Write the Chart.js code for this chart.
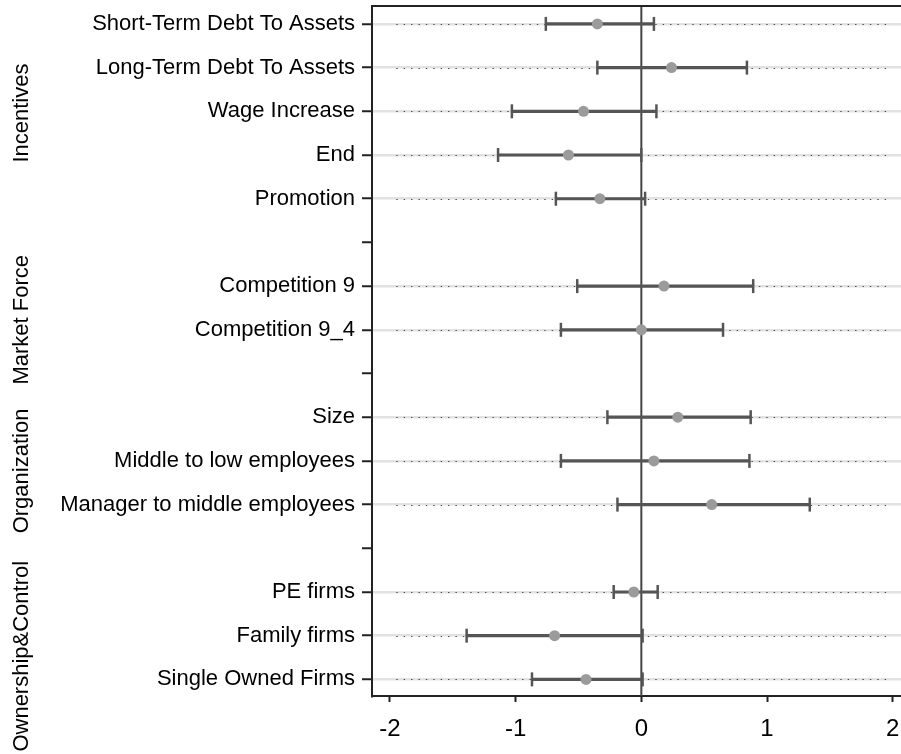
<!DOCTYPE html>
<html>
<head>
<meta charset="utf-8">
<script src="https://cdn.jsdelivr.net/npm/chart.js@4/dist/chart.umd.min.js"></script>
<style>
  html, body { margin: 0; padding: 0; background: #fff; }
  #wrap { width: 901px; height: 754px; }
</style>
</head>
<body>
<div id="wrap"><canvas id="c" width="901" height="754"></canvas></div>
<script>
// ---- data ----
const rowLabels = [
  'Short-Term Debt To Assets', 'Long-Term Debt To Assets', 'Wage Increase', 'End', 'Promotion', '',
  'Competition 9', 'Competition 9_4', '',
  'Size', 'Middle to low employees', 'Manager to middle employees', '',
  'PE firms', 'Family firms', 'Single Owned Firms'
];
const coef   = [-0.35, 0.24, -0.46, -0.58, -0.33, null, 0.18, 0.00, null, 0.29, 0.10, 0.56, null, -0.06, -0.69, -0.44];
const ciLow  = [-0.76, -0.35, -1.03, -1.14, -0.68, null, -0.51, -0.64, null, -0.27, -0.64, -0.19, null, -0.22, -1.39, -0.87];
const ciHigh = [0.10, 0.84, 0.12, 0.00, 0.03, null, 0.89, 0.65, null, 0.87, 0.86, 1.34, null, 0.13, 0.01, 0.01];
const groupNames = ['Incentives', 'Market Force', 'Organization', 'Ownership&Control'];
const groupAt = [2.04, 6.77, 10.23, 14.47];
const xTicks = [-2, -1, 0, 1, 2];
const dotSpan = [-1.95, 1.95];

const FONT = "'Liberation Sans', Arial, Helvetica, sans-serif";
const rows = rowLabels.map((l, i) => i).filter(i => coef[i] !== null);

const pointData = rows.map(i => ({ x: coef[i], y: i }));
const capData = rows.flatMap(i => [{ x: ciLow[i], y: i }, { x: ciHigh[i], y: i }]);
const barData = rows.map(i => ({ x: [ciLow[i], ciHigh[i]], y: i }));

const decor = {
  id: 'decor',
  beforeDatasetsDraw(chart) {
    const { ctx, chartArea: a, scales: { x, y } } = chart;
    ctx.save();
    // dotted lines on labeled rows
    ctx.strokeStyle = '#4a4a4a';
    ctx.lineWidth = 1.2;
    ctx.setLineDash([1.4, 6]);
    rows.forEach(i => {
      const py = Math.round(y.getPixelForValue(i)) + 0.5;
      ctx.beginPath();
      ctx.moveTo(x.getPixelForValue(dotSpan[0]), py);
      ctx.lineTo(x.getPixelForValue(dotSpan[1]), py);
      ctx.stroke();
    });
    ctx.setLineDash([]);
    // zero line
    ctx.strokeStyle = '#444';
    ctx.lineWidth = 2;
    const zx = x.getPixelForValue(0);
    ctx.beginPath();
    ctx.moveTo(zx, a.top);
    ctx.lineTo(zx, a.bottom);
    ctx.stroke();
    ctx.restore();
  },
  afterDraw(chart) {
    const { ctx, chartArea: a, scales: { y } } = chart;
    ctx.save();
    // top frame line
    ctx.strokeStyle = '#222';
    ctx.lineWidth = 2;
    ctx.beginPath();
    ctx.moveTo(a.left - 1, a.top);
    ctx.lineTo(chart.width, a.top);
    ctx.stroke();
    // group labels
    ctx.fillStyle = '#000';
    ctx.font = '22px ' + FONT;
    ctx.textAlign = 'center';
    ctx.textBaseline = 'middle';
    groupNames.forEach((g, k) => {
      ctx.save();
      ctx.translate(22, y.getPixelForValue(groupAt[k]));
      ctx.rotate(-Math.PI / 2);
      ctx.fillText(g, 0, 0);
      ctx.restore();
    });
    ctx.restore();
  }
};

new Chart(document.getElementById('c'), {
  type: 'scatter',
  data: {
    datasets: [
      {
        label: 'coef',
        data: pointData,
        pointStyle: 'circle',
        pointRadius: 5.5,
        pointBackgroundColor: '#9b9b9b',
        pointBorderWidth: 0,
        pointBorderColor: '#9b9b9b'
      },
      {
        label: 'caps',
        data: capData,
        pointStyle: 'line',
        pointRotation: 90,
        pointRadius: 7,
        pointBorderWidth: 2.5,
        pointBorderColor: '#555'
      },
      {
        type: 'bar',
        label: 'ci',
        indexAxis: 'y',
        data: barData,
        barThickness: 2.5,
        backgroundColor: '#555',
        borderWidth: 0
      }
    ]
  },
  options: {
    responsive: false,
    animation: false,
    events: [],
    layout: { autoPadding: false, padding: { top: 6, right: 0, left: 0, bottom: 0 } },
    plugins: { legend: { display: false }, tooltip: { enabled: false } },
    scales: {
      x: {
        type: 'linear',
        offset: false,
        min: -2.143,
        max: 2.066,
        afterBuildTicks: s => { s.ticks = xTicks.map(v => ({ value: v })); },
        afterFit: s => { s.height = 58; s.paddingLeft = 0; s.paddingRight = 0; },
        grid: {
          offset: false,
          drawOnChartArea: false,
          tickLength: 6,
          tickWidth: 2,
          tickColor: '#222'
        },
        border: { display: true, color: '#222', width: 2 },
        ticks: {
          color: '#000',
          padding: 13,
          maxRotation: 0,
          font: { family: FONT, size: 24 },
          callback: v => String(v)
        }
      },
      y: {
        type: 'linear',
        offset: false,
        reverse: true,
        min: -0.41,
        max: 15.38,
        afterBuildTicks: s => { s.ticks = rowLabels.map((l, i) => ({ value: i })); },
        afterFit: s => { s.width = 372; s.paddingTop = 0; s.paddingBottom = 0; },
        grid: {
          offset: false,
          drawOnChartArea: true,
          color: c => (c.tick && rowLabels[c.tick.value]) ? '#e2e2e2' : 'rgba(0,0,0,0)',
          lineWidth: 2.5,
          tickLength: 10,
          tickWidth: 2,
          tickColor: '#222'
        },
        border: { display: true, color: '#222', width: 2 },
        ticks: {
          color: '#000',
          padding: 7,
          autoSkip: false,
          font: { family: FONT, size: 22 },
          callback: v => rowLabels[v] || ''
        }
      }
    }
  },
  plugins: [decor]
});
</script>
</body>
</html>
